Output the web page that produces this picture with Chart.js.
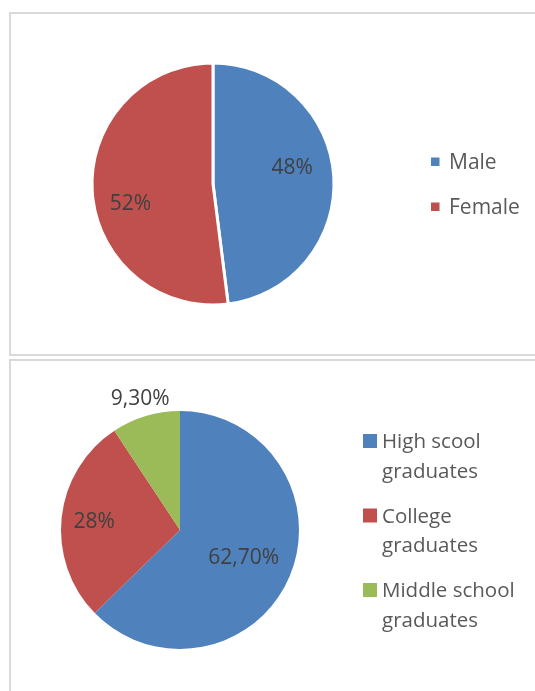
<!DOCTYPE html>
<html>
<head>
<meta charset="utf-8">
<script src="https://cdn.jsdelivr.net/npm/chart.js@4.4.1/dist/chart.umd.min.js"></script>
<style>
  body { margin: 0; width: 535px; height: 691px; overflow: hidden; background: #fff; }
  .box { position: absolute; left: 9px; width: 560px; border: 2px solid #d9d9d9; border-right: none; }
  canvas { position: absolute; left: 0; }
</style>
</head>
<body>
<div class="box" style="top:12px; height:340px;"></div>
<div class="box" style="top:359px; height:400px;"></div>
<canvas id="genderChart" width="535" height="357" style="top:0px;"></canvas>
<canvas id="eduChart" width="535" height="334" style="top:357px;"></canvas>
<script>
//chart data
var genderLabels = ["Male", "Female"];
var genderValues = [48, 52];
var genderColors = ["#4F81BD", "#C0504D"];

var eduLabels = ["High scool graduates", "College graduates", "Middle school graduates"];
var eduValues = [62.7, 28, 9.3];
var eduColors = ["#4F81BD", "#C0504D", "#9BBB59"];

var FONT = '"Open Sans", "Noto Sans", sans-serif';

//format value the excel way, comma decimals
function pct( v ){
    if( v % 1 == 0 ) return v + "%";
    return v.toFixed(2).replace(".", ",") + "%";
}

//percentage labels placed on each slice
var pieLabels = {
    id: 'pieLabels',
    afterDatasetsDraw: function( chart, args, opts ){
        var ctx = chart.ctx;
        var meta = chart.getDatasetMeta(0);
        var values = chart.data.datasets[0].data;
        ctx.save();
        ctx.font = opts.size + 'px ' + FONT;
        ctx.fillStyle = opts.color;
        ctx.textAlign = 'center';
        ctx.textBaseline = 'alphabetic';
        for( var i = 0; i < meta.data.length; i++ ){
            var p = meta.data[i].getProps(['x', 'y', 'startAngle', 'endAngle', 'outerRadius'], true);
            var a = (p.startAngle + p.endAngle) / 2 + (opts.shift || 0) * Math.PI / 180;
            var r = p.outerRadius * opts.dist[i];
            ctx.fillText( pct(values[i]), p.x + Math.cos(a) * r, p.y + Math.sin(a) * r + opts.size * 0.357 );
        }
        ctx.restore();
    }
};

//legend on the right with word wrapping
var sideLegend = {
    id: 'sideLegend',
    afterDraw: function( chart, args, opts ){
        var ctx = chart.ctx;
        var labels = chart.data.labels;
        var colors = chart.data.datasets[0].backgroundColor;
        ctx.save();
        ctx.font = opts.size + 'px ' + FONT;
        ctx.textAlign = 'left';
        ctx.textBaseline = 'alphabetic';
        for( var i = 0; i < labels.length; i++ ){
            var top = opts.top + i * opts.step;
            ctx.fillStyle = colors[i];
            ctx.fillRect( opts.x, top, opts.box, opts.box );

            //wrap words
            var words = labels[i].split(" "), lines = [], line = "";
            for( var j = 0; j < words.length; j++ ){
                var test = line ? line + " " + words[j] : words[j];
                if( line && ctx.measureText(test).width > opts.maxWidth ){
                    lines.push( line );
                    line = words[j];
                } else {
                    line = test;
                }
            }
            lines.push( line );

            ctx.fillStyle = opts.color;
            for( var k = 0; k < lines.length; k++ )
                ctx.fillText( lines[k], opts.x + opts.textGap, top + opts.baseline + k * opts.lineHeight );
        }
        ctx.restore();
    }
};

new Chart( document.getElementById("genderChart"), {
    type: 'pie',
    data: {
        labels: genderLabels,
        datasets: [{
            data: genderValues,
            backgroundColor: genderColors,
            borderColor: "#ffffff",
            borderWidth: 3
        }]
    },
    options: {
        responsive: false,
        animation: false,
        devicePixelRatio: 1,
        radius: 121,
        layout: { padding: { left: 92, right: 201, top: 63, bottom: 52 } },
        plugins: {
            legend: { display: false },
            tooltip: { enabled: false },
            pieLabels: { size: 21, color: "#404040", dist: [0.67, 0.70], shift: -9 },
            sideLegend: { x: 431, top: 157.5, box: 8.5, step: 45, textGap: 18, baseline: 11, lineHeight: 29.5, size: 21, color: "#595959", maxWidth: 150 }
        }
    },
    plugins: [pieLabels, sideLegend]
});

new Chart( document.getElementById("eduChart"), {
    type: 'pie',
    data: {
        labels: eduLabels,
        datasets: [{
            data: eduValues,
            backgroundColor: eduColors,
            borderWidth: 0
        }]
    },
    options: {
        responsive: false,
        animation: false,
        devicePixelRatio: 1,
        radius: 119,
        layout: { padding: { left: 61, right: 236, top: 54, bottom: 42 } },
        plugins: {
            legend: { display: false },
            tooltip: { enabled: false },
            pieLabels: { size: 21, color: "#404040", dist: [0.58, 0.725, 1.163], shift: 0 },
            sideLegend: { x: 363, top: 77, box: 14, step: 74.5, textGap: 19, baseline: 14.3, lineHeight: 29.5, size: 20.5, color: "#595959", maxWidth: 150 }
        }
    },
    plugins: [pieLabels, sideLegend]
});
</script>
</body>
</html>
